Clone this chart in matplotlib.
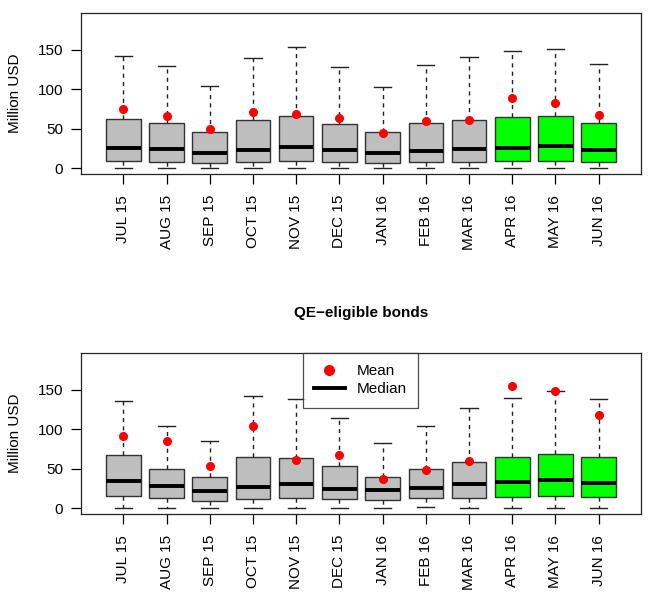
import matplotlib.pyplot as plt
from matplotlib.lines import Line2D

plt.rcParams['font.family'] = ['Liberation Sans', 'DejaVu Sans']

months = ['JUL 15', 'AUG 15', 'SEP 15', 'OCT 15', 'NOV 15', 'DEC 15',
          'JAN 16', 'FEB 16', 'MAR 16', 'APR 16', 'MAY 16', 'JUN 16']
box_colors = ['#bebebe'] * 9 + ['#00ff00'] * 3

# top panel (all bonds)
top_whislo = [0, 0, 0, 0, 0, 0, 0, 0, 0, 0, 0, 0]
top_q1 = [8.8, 7.6, 6.3, 7.6, 8.4, 7.6, 6.7, 7.2, 8.0, 8.8, 9.3, 8.0]
top_med = [25.3, 23.6, 18.5, 23.2, 26.1, 22.3, 19.4, 21.5, 23.6, 25.3, 27.8, 23.2]
top_q3 = [62.8, 56.9, 45.5, 60.7, 66.6, 55.6, 45.1, 56.9, 60.7, 64.5, 65.7, 57.3]
top_whishi = [142.4, 129.8, 104.1, 139.5, 153.0, 128.0, 102.4, 131.0, 140.3, 147.9, 151.3, 132.3]
top_mean = [75.0, 66.2, 49.3, 70.8, 68.7, 63.2, 44.7, 59.8, 61.5, 89.3, 82.6, 67.8]

# bottom panel (QE-eligible bonds)
qe_whislo = [0, 0.5, 0, 0, 0, 0, 0, 1.3, 0, 0, 0, 0.5]
qe_q1 = [15.6, 13.1, 8.4, 11.4, 13.1, 11.8, 10.5, 12.2, 13.1, 13.9, 15.6, 14.3]
qe_med = [33.7, 27.8, 21.1, 27.0, 30.3, 23.6, 22.3, 25.7, 30.3, 32.9, 35.8, 31.2]
qe_q3 = [67.0, 50.1, 38.8, 64.1, 63.6, 53.1, 39.2, 49.7, 58.6, 64.5, 69.1, 64.1]
qe_whishi = [136.1, 103.7, 84.7, 141.6, 137.8, 114.6, 83.0, 103.7, 126.4, 139.1, 148.3, 137.8]
qe_mean = [91.0, 85.5, 53.9, 104.1, 61.1, 67.8, 37.1, 48.5, 59.8, 154.7, 148.3, 117.6]


def draw_panel(ax, whislo, q1, med, q3, whishi, mean):
    stats = []
    for i in range(len(months)):
        stats.append(dict(whislo=whislo[i], q1=q1[i], med=med[i], q3=q3[i],
                          whishi=whishi[i], mean=mean[i], fliers=[]))
    bp = ax.bxp(stats, positions=range(1, 13), widths=0.8, capwidths=0.4,
                patch_artist=True, showmeans=True, showfliers=False,
                boxprops=dict(edgecolor='#333333', linewidth=1.0),
                whiskerprops=dict(color='#222222', linestyle=(0, (3, 3)), linewidth=1.0),
                capprops=dict(color='#222222', linewidth=1.0),
                medianprops=dict(color='black', linewidth=2.8, solid_capstyle='butt'),
                meanprops=dict(marker='o', markerfacecolor='red', markeredgecolor='red',
                               markersize=5.5))
    for patch, c in zip(bp['boxes'], box_colors):
        patch.set_facecolor(c)
    ax.set_xlim(0.02, 12.98)
    ax.set_ylim(-7.5, 196.5)
    ax.set_yticks([0, 50, 100, 150])
    ax.set_xticks(range(1, 13))
    ax.set_xticklabels(months, rotation=90)
    ax.tick_params(axis='both', direction='out', length=7, width=0.9, labelsize=11)
    ax.tick_params(axis='y', pad=6)
    ax.tick_params(axis='x', pad=8)
    for s in ax.spines.values():
        s.set_linewidth(0.9)
        s.set_color('#222222')
    ax.text(-0.118, 0.5, 'Million USD', transform=ax.transAxes, rotation=90,
            ha='center', va='center', fontsize=11)


fig = plt.figure(figsize=(6.48, 6.06), dpi=100)
ax1 = fig.add_axes([81 / 648, 1 - 174 / 606, 560 / 648, 161 / 606])
ax2 = fig.add_axes([81 / 648, 1 - 514 / 606, 560 / 648, 161 / 606])

draw_panel(ax1, top_whislo, top_q1, top_med, top_q3, top_whishi, top_mean)
draw_panel(ax2, qe_whislo, qe_q1, qe_med, qe_q3, qe_whishi, qe_mean)

fig.text(361 / 648, 1 - 313 / 606, 'QE\u2212eligible bonds', ha='center', va='center',
         fontsize=11, fontweight='bold')

handles = [Line2D([], [], linestyle='none', marker='o', markersize=7,
                  markerfacecolor='red', markeredgecolor='red'),
           Line2D([], [], color='black', linewidth=2.8)]
leg = ax2.legend(handles, ['Mean', 'Median'], loc='upper center',
                 bbox_to_anchor=(0.499, 1.0), fontsize=11, frameon=True,
                 fancybox=False, borderaxespad=0, handlelength=2.0,
                 labelspacing=0.25, borderpad=0.75, handletextpad=0.8)
leg.get_frame().set_edgecolor('#222222')
leg.get_frame().set_linewidth(0.9)

plt.savefig('out.png', dpi=100)
plt.close(fig)
